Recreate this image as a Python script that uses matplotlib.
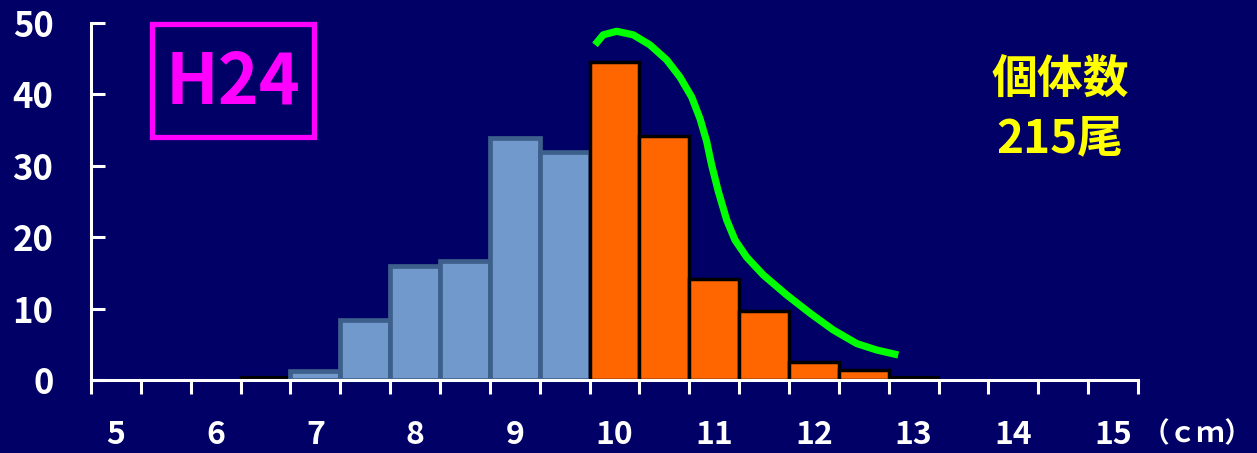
import matplotlib
matplotlib.use("Agg")
import matplotlib.pyplot as plt
from matplotlib.patches import Rectangle

plt.rcParams['font.family'] = ['Noto Sans CJK JP', 'DejaVu Sans']

# ---- data ----
lengths = [5.0, 5.5, 6.0, 6.5, 7.0, 7.5, 8.0, 8.5, 9.0, 9.5, 10.0,
           10.5, 11.0, 11.5, 12.0, 12.5, 13.0, 13.5, 14.0, 14.5, 15.0]
small_counts = [0, 0, 0, 0.4, 1.3, 8.4, 15.9, 16.6, 33.8, 31.9, 0,
                0, 0, 0, 0, 0, 0, 0, 0, 0, 0]
large_counts = [0, 0, 0, 0, 0, 0, 0, 0, 0, 0, 44.5,
                34.2, 14.1, 9.6, 2.5, 1.4, 0.4, 0, 0, 0, 0]
curve_x = [9.804, 9.887, 10.022, 10.188, 10.355, 10.523, 10.656, 10.774,
           10.857, 10.924, 10.974, 11.041, 11.125, 11.208, 11.325, 11.492,
           11.727, 11.966, 12.194, 12.429, 12.629, 12.846]
curve_y = [46.9, 48.3, 48.8, 48.3, 46.9, 44.8, 42.4, 39.6,
           36.6, 33.4, 30.1, 26.4, 22.4, 19.6, 17.2, 14.7,
           11.9, 9.3, 7.0, 5.1, 4.2, 3.5]
y_ticks = [0, 10, 20, 30, 40, 50]
x_labels = ['5', '6', '7', '8', '9', '10', '11', '12', '13', '14', '15']
label_pos = [5.0, 6.0, 7.0, 8.0, 9.0, 10.0, 11.0, 12.0, 13.0, 14.0, 15.0]
title_label = 'H24'
count_line1 = '個体数'
count_line2 = '215尾'
unit_text = '（ｃｍ）'

BG = '#000066'
W, H = 1257, 453
fig = plt.figure(figsize=(W / 100, H / 100), dpi=100, facecolor=BG)
ax = fig.add_axes([91 / W, 1 - 380 / H, (1138 - 91) / W, (380 - 22.7) / H])
ax.set_facecolor(BG)

bw = 0.5
for x, v in zip(lengths, small_counts):
    if v <= 0:
        continue
    if v < 1:
        ax.bar(x, v, width=bw, color='#000000', edgecolor='#000000', linewidth=1.5, zorder=2)
    else:
        ax.bar(x, v, width=bw, color='#7299CB', edgecolor='#3D5F8C', linewidth=3.4, zorder=2)
for x, v in zip(lengths, large_counts):
    if v <= 0:
        continue
    if v < 1:
        ax.bar(x, v, width=bw, color='#000000', edgecolor='#000000', linewidth=1.5, zorder=2)
    else:
        ax.bar(x, v, width=bw, color='#FF6600', edgecolor='#000000', linewidth=2.5, zorder=3)

ax.plot(curve_x, curve_y, color='#00FF00', linewidth=5.2, solid_capstyle='butt',
        solid_joinstyle='round', zorder=4)

ax.set_xlim(4.75, 15.25)
ax.set_ylim(0, 50)

for s in ['top', 'right']:
    ax.spines[s].set_visible(False)
for s in ['left', 'bottom']:
    ax.spines[s].set_color('white')
    ax.spines[s].set_linewidth(2.2)
    ax.spines[s].set_zorder(5)

edges = [x - bw / 2 for x in lengths] + [lengths[-1] + bw / 2]
ax.set_xticks(edges)
ax.set_xticklabels([])
ax.tick_params(axis='x', direction='out', length=10, width=2.2, color='white')
ax.set_yticks(y_ticks)
ax.set_yticklabels([str(t) for t in y_ticks], color='white', fontsize=25, fontweight='bold')
ax.tick_params(axis='y', direction='in', length=10, width=2.2, color='white', pad=27)

for xp, lab in zip(label_pos, x_labels):
    ax.text(xp, -7.7, lab, color='white', fontsize=23, fontweight='bold',
            ha='center', va='center', clip_on=False)
fig.text(1197 / W, 1 - 434 / H, unit_text, color='white', fontsize=20, fontweight='bold',
         ha='center', va='center')

# H24 box
fig.add_artist(Rectangle((152 / W, 1 - 137 / H), 162 / W, 113 / H, transform=fig.transFigure,
                         fill=False, edgecolor='#FF00FF', linewidth=3.8))
fig.text(233 / W, 1 - 83 / H, title_label, color='#FF00FF', fontsize=50, fontweight='bold',
         ha='center', va='center')

fig.text(1060 / W, 1 - 80 / H, count_line1, color='#FFFF00', fontsize=33, fontweight='bold',
         ha='center', va='center')
fig.text(1060 / W, 1 - 139 / H, count_line2, color='#FFFF00', fontsize=33, fontweight='bold',
         ha='center', va='center')

fig.savefig('out.png', dpi=100, facecolor=BG)
